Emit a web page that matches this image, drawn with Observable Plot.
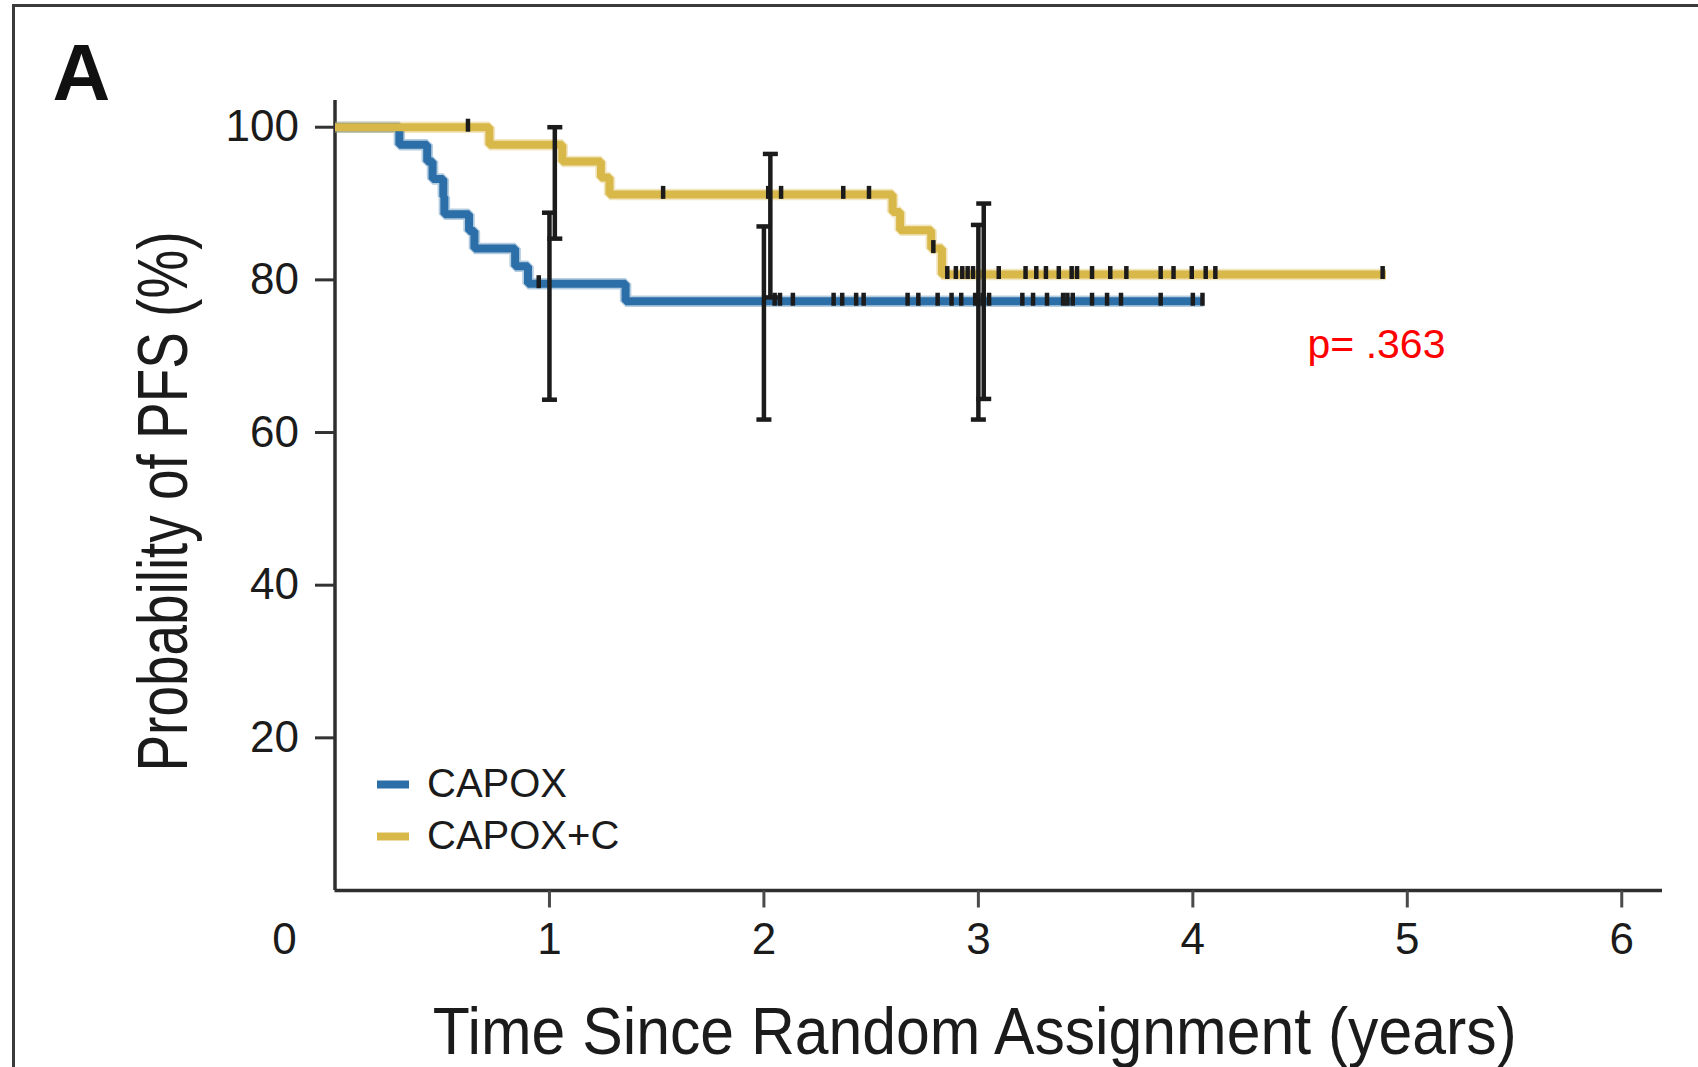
<!DOCTYPE html>
<html>
<head>
<meta charset="utf-8">
<script src="https://cdn.jsdelivr.net/npm/d3@7"></script>
<script src="https://cdn.jsdelivr.net/npm/@observablehq/plot@0.6"></script>
<style>
  html, body { margin: 0; padding: 0; background: #fff; }
  #wrap { position: relative; width: 1698px; height: 1067px; overflow: hidden; }
  #edge { position: absolute; left: 12px; top: 4px; right: -20px; bottom: -20px;
          border-top: 3px solid #3b3b3b; border-left: 3px solid #3b3b3b; pointer-events: none; }
  #wrap svg { position: absolute; left: 0; top: 0; }
</style>
</head>
<body>
<div id="wrap"><div id="edge"></div></div>
<script>
// Kaplan–Meier progression-free survival by treatment arm
const series = ["CAPOX", "CAPOX+C"];
const colors = ["#2c6fa8", "#d9b84a"];

// Step points: time (years) at which the estimate changes, and the new level (%)
const capoxTime = [0, 0.30, 0.43, 0.455, 0.505, 0.51, 0.625, 0.65, 0.84, 0.90, 1.355, 4.05];
const capoxPFS  = [100, 97.7, 95.5, 93.2, 90.9, 88.6, 86.4, 84.1, 81.8, 79.5, 77.2, 77.2];
const capoxCTime = [0, 0.72, 1.06, 1.24, 1.28, 2.60, 2.635, 2.78, 2.83, 4.90];
const capoxCPFS  = [100, 97.7, 95.5, 93.4, 91.2, 88.9, 86.5, 84.1, 80.7, 80.7];

// Censoring times (years)
const capoxCensored = [0.95, 2.05, 2.075, 2.135, 2.325, 2.365, 2.43, 2.465, 2.67, 2.72, 2.81, 2.875,
  2.92, 2.985, 3.02, 3.05, 3.205, 3.255, 3.32, 3.395, 3.415, 3.44, 3.53, 3.60, 3.665, 3.85, 4.0, 4.045];
const capoxCCensored = [0.62, 1.53, 2.02, 2.08, 2.37, 2.49, 2.79, 2.855, 2.895, 2.925, 2.95, 2.975,
  3.095, 3.22, 3.27, 3.315, 3.375, 3.435, 3.46, 3.53, 3.615, 3.69, 3.85, 3.91, 3.995, 4.06, 4.105, 4.885];

// 95% confidence intervals at 1, 2 and 3 years
const capoxCITime  = [1.0, 2.0, 3.0];
const capoxCILow   = [64.3, 61.7, 61.7];
const capoxCIHigh  = [88.8, 87.0, 87.2];
const capoxCCITime = [1.025, 2.03, 3.025];
const capoxCCILow  = [85.4, 77.7, 64.4];
const capoxCCIHigh = [100, 96.5, 90.0];

// Axes
const xTicks = [1, 2, 3, 4, 5, 6];
const yTicks = [20, 40, 60, 80, 100];
const xMax = 6.19;
const yMax = 103.5;
const xTitle = "Time Since Random Assignment (years)";
const yTitle = "Probability of PFS (%)";
const panelLetter = "A";
const pText = "p= .363";

const font = "'Liberation Sans', Arial, Helvetica, sans-serif";
const ink = "#1b1b1b";

// Build tables
const curveRows = (times, levels, arm) => times.map((t, i) => ({arm, time: t, pfs: levels[i]}));
const levelAt = (times, levels, t) => {
  let v = levels[0];
  for (let i = 0; i < times.length; i++) if (times[i] <= t) v = levels[i];
  return v;
};
const arms = [
  {name: series[0], color: colors[0], times: capoxTime, levels: capoxPFS, cens: capoxCensored,
   ciT: capoxCITime, ciL: capoxCILow, ciH: capoxCIHigh},
  {name: series[1], color: colors[1], times: capoxCTime, levels: capoxCPFS, cens: capoxCCensored,
   ciT: capoxCCITime, ciL: capoxCCILow, ciH: capoxCCIHigh}
];
const curves = arms.map(a => curveRows(a.times, a.levels, a.name));
const censorRows = arms.flatMap(a => a.cens.map(t => ({arm: a.name, time: t, pfs: levelAt(a.times, a.levels, t)})));
const ciRows = arms.flatMap(a => a.ciT.map((t, i) => ({arm: a.name, time: t, lo: a.ciL[i], hi: a.ciH[i]})));
const ciCaps = ciRows.flatMap(d => [{time: d.time, v: d.lo}, {time: d.time, v: d.hi}]);

// Rectangular marker shapes (pixel sizes)
const box = (w, h, ox = 0, oy = 0) => ({
  draw(ctx) {
    ctx.moveTo(ox - w / 2, oy - h / 2);
    ctx.lineTo(ox + w / 2, oy - h / 2);
    ctx.lineTo(ox + w / 2, oy + h / 2);
    ctx.lineTo(ox - w / 2, oy + h / 2);
    ctx.closePath();
  }
});

const legendMarks = series.flatMap((name, i) => [
  Plot.dot([name], {frameAnchor: "bottom-left", dx: 58, dy: -106 + i * 52,
    symbol: box(32, 8), fill: colors[i], stroke: "none"}),
  Plot.text([name], {frameAnchor: "bottom-left", dx: 92, dy: -106 + i * 52,
    text: d => d, textAnchor: "start", lineAnchor: "middle", fontSize: 40, fill: ink})
]);

const chart = Plot.plot({
  width: 1698,
  height: 1067,
  marginLeft: 334.5,
  marginRight: 36,
  marginTop: 100,
  marginBottom: 177,
  x: {domain: [0, xMax], axis: null},
  y: {domain: [0, yMax], axis: null},
  style: {fontFamily: font, background: "transparent", overflow: "visible"},
  marks: [
    // axis lines
    Plot.ruleY([0], {stroke: "#2e2e2e", strokeWidth: 3.5}),
    Plot.ruleX([0], {stroke: "#2e2e2e", strokeWidth: 3.5}),
    // ticks
    Plot.dot(xTicks, {x: d => d, y: 0, symbol: box(3, 17, 0, 8.5), fill: "#4a4a4a", stroke: "none"}),
    Plot.dot(yTicks, {x: 0, y: d => d, symbol: box(20, 3, -10, 0), fill: "#333", stroke: "none"}),
    Plot.text(xTicks, {x: d => d, y: 0, dy: 49, text: d => String(d), fontSize: 44,
      textAnchor: "middle", lineAnchor: "middle", fill: ink}),
    Plot.text(yTicks, {x: 0, y: d => d, dx: -36, text: d => String(d), fontSize: 44,
      textAnchor: "end", lineAnchor: "middle", fill: ink}),
    Plot.text([0], {x: 0, y: 0, dx: -50.5, dy: 49, text: d => String(d), fontSize: 44,
      textAnchor: "middle", lineAnchor: "middle", fill: ink}),
    // axis titles
    Plot.text([xTitle], {frameAnchor: "bottom", dx: -24, dy: 163, text: d => d, fontSize: 66,
      textAnchor: "middle", lineAnchor: "bottom", fill: ink}),
    Plot.text([yTitle], {frameAnchor: "left", dx: -148.5, dy: 6, rotate: -90, text: d => d, fontSize: 71,
      textAnchor: "middle", lineAnchor: "bottom", fill: ink}),
    // survival curves (soft edge beneath, solid core on top)
    ...curves.map((rows, i) => Plot.line(rows, {x: "time", y: "pfs", curve: "step-after",
      stroke: colors[i], strokeWidth: 11.5, strokeOpacity: 0.35, strokeLinejoin: "miter", strokeLinecap: "butt"})),
    ...curves.map((rows, i) => Plot.line(rows, {x: "time", y: "pfs", curve: "step-after",
      stroke: colors[i], strokeWidth: 8, strokeLinejoin: "miter", strokeLinecap: "butt"})),
    // confidence intervals
    Plot.ruleX(ciRows, {x: "time", y1: "lo", y2: "hi", stroke: ink, strokeWidth: 4.5}),
    Plot.dot(ciCaps, {x: "time", y: "v", symbol: box(15, 4.5), fill: ink, stroke: "none"}),
    // censoring marks
    Plot.dot(censorRows, {x: "time", y: "pfs", symbol: box(4.5, 13, 0, -2), fill: ink, stroke: "none"}),
    // legend
    ...legendMarks,
    // panel letter and test result
    Plot.text([panelLetter], {frameAnchor: "top-left", dx: -282.5, dy: -1, text: d => d, fontSize: 80,
      fontWeight: "bold", textAnchor: "start", lineAnchor: "bottom", fill: "#111"}),
    Plot.text([pText], {frameAnchor: "top-left", dx: 972.5, dy: 257, text: d => d, fontSize: 41,
      textAnchor: "start", lineAnchor: "bottom", fill: "#ff0000"})
  ]
});

// The axis titles are set in a condensed face: squeeze them to their printed lengths
const squeeze = (label, length) => d3.select(chart).selectAll("text")
  .filter(function () { return this.textContent === label; })
  .attr("textLength", length).attr("lengthAdjust", "spacingAndGlyphs");
squeeze(xTitle, 1084);
squeeze(yTitle, 540);

document.getElementById("wrap").appendChild(chart);
</script>
</body>
</html>
